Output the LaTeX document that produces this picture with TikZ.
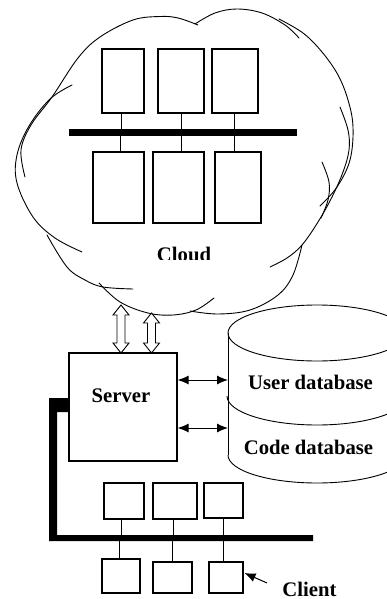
\documentclass[tikz,border=0pt]{standalone}
\usepackage{fontspec}
\setmainfont{Liberation Serif}
\usetikzlibrary{arrows.meta}

% double-headed hollow arrow: x, top y, bottom y
\newcommand{\hollowdbl}[3]{%
  \draw[hollowarrow] (#1,#2) -- ++(8,10) -- ++(-4,0) -- (#1+4,#3-10) -- ++(4,0)
    -- (#1,#3) -- ++(-8,-10) -- ++(4,0) -- (#1-4,#2+10) -- ++(-4,0) -- cycle;}

\begin{document}
\begin{tikzpicture}[x=1pt,y=-1pt,
  box/.style={draw, line width=1.1pt, inner sep=0pt, fill=white},
  lbl/.style={font=\bfseries\fontsize{20.7}{24}\selectfont, inner sep=0pt, anchor=base},
  wire/.style={line width=0.9pt},
  cloudline/.style={line width=0.9pt, line cap=round},
  hollowarrow/.style={line width=0.9pt, fill=white, line join=miter},
  dbarrow/.style={line width=1pt, {Latex[length=11pt,width=9pt]}-{Latex[length=11pt,width=9pt]}},
  bus/.style={fill=black, draw=none, inner sep=0pt}]

\useasboundingbox (0,0) rectangle (387,599);

% ---- cloud outline: overlapping lobes ----
\draw[cloudline] plot[smooth, tension=0.6] coordinates {(198,25) (178,18) (160,16.5) (133,20) (100,37) (78,58) (52,97) (31,125) (21,150) (25,177)};
\draw[cloudline] plot[smooth, tension=0.6] coordinates {(195,24) (215,13) (237,9) (262,13) (285,25) (299,38)};
\draw[cloudline] plot[smooth, tension=0.6] coordinates {(279,19) (303,33) (322,52) (338,75) (348,100) (353,127) (350,160) (337,187) (320,206)};
\draw[cloudline] plot[smooth, tension=0.6] coordinates {(340,107) (348,130) (349,150) (343,172) (332,197) (318,222) (302,245) (287,258) (270,267)};
\draw[cloudline] plot[smooth, tension=0.6] coordinates {(322,162) (329,182) (328,200) (321,218)};
\draw[cloudline] plot[smooth, tension=0.6] coordinates {(302,245) (293,275) (278,295) (250,310) (218,314) (190,311)};
\draw[cloudline] plot[smooth, tension=0.6] coordinates {(99,283) (120,302) (148,313) (173,315) (196,310) (214,298)};
\draw[cloudline] plot[smooth, tension=0.6] coordinates {(47,235) (67,267) (85,280) (103,287) (133,289)};
\draw[cloudline] plot[smooth, tension=0.6] coordinates {(72,85) (50,99) (29,126) (17,155) (17,183) (33,217) (55,238) (82,252)};

% ---- network inside the cloud ----
\node[bus, minimum width=228pt, minimum height=7pt] (bar) at (183,132.5) {};
\node[box, minimum width=42pt, minimum height=64pt] (t1) at (123,81) {};
\node[box, minimum width=46pt, minimum height=64pt] (t2) at (181,81) {};
\node[box, minimum width=46pt, minimum height=64pt] (t3) at (235,81) {};
\node[box, minimum width=51pt, minimum height=71pt] (b1) at (118.5,187.5) {};
\node[box, minimum width=51pt, minimum height=71pt] (b2) at (178.5,187.5) {};
\node[box, minimum width=46pt, minimum height=71pt] (b3) at (238,187.5) {};
\draw[wire] ([xshift=-2pt]t1.south) -- ([xshift=-2pt]t1.south |- bar.north);
\draw[wire] (t2.south) -- (t2.south |- bar.north);
\draw[wire] ([xshift=-1pt]t3.south) -- ([xshift=-1pt]t3.south |- bar.north);
\draw[wire] ([xshift=1.5pt]b1.north) -- ([xshift=1.5pt]b1.north |- bar.south);
\draw[wire] ([xshift=2.5pt]b2.north) -- ([xshift=2.5pt]b2.north |- bar.south);
\draw[wire] ([xshift=-4pt]b3.north) -- ([xshift=-4pt]b3.north |- bar.south);

\begin{scope}
  \clip (120,230) rectangle (250,259.5);
  \node[lbl] (cloudlbl) at (184,261.7) {Cloud};
\end{scope}

% ---- server ----
\node[box, minimum width=108pt, minimum height=108pt] (server) at (123,407) {};
\node[lbl] (srvlbl) at (121,402) {Server};
\hollowdbl{121}{305}{353}
\hollowdbl{151.5}{313}{353}

% ---- databases ----
\draw[wire] (317,333) ellipse (89pt and 28pt);
\draw[wire] (228,333) -- (228,455);
\draw[wire] (406,333) -- (406,455);
\draw[wire] (228,455) arc[start angle=180, end angle=360, x radius=89pt, y radius=28pt];
\draw[wire] (227,396) arc[start angle=180, end angle=360, x radius=90pt, y radius=29pt];
\node[lbl] (udblbl) at (310.5,389) {User database};
\node[lbl] (cdblbl) at (308.5,454) {Code database};
\coordinate (udb) at (228,380);
\coordinate (cdb) at (228,428);
\draw[dbarrow] (server.east |- udb) -- (udb);
\draw[dbarrow] (server.east |- cdb) -- (cdb);

% ---- client network ----
\fill (49,398) -- (server.west |- 0,398) -- (server.west |- 0,412) -- (57,412)
  -- (57,535) -- (313,535) -- (313,541) -- (49,541) -- cycle;
\coordinate (bustop) at (180,535);
\coordinate (busbot) at (180,541);
\node[box, minimum width=40pt, minimum height=36pt] (c1) at (124,501) {};
\node[box, minimum width=44pt, minimum height=36pt] (c2) at (175,501) {};
\node[box, minimum width=39pt, minimum height=35pt] (c3) at (223.5,500.5) {};
\node[box, minimum width=38pt, minimum height=34pt] (d1) at (121,576) {};
\node[box, minimum width=39pt, minimum height=31pt] (d2) at (172.5,577.5) {};
\node[box, minimum width=34pt, minimum height=31pt] (d3) at (226,577.5) {};
\draw[wire] ([xshift=-3pt]c1.south) -- ([xshift=-3pt]c1.south |- bustop);
\draw[wire] ([xshift=-2pt]c2.south) -- ([xshift=-2pt]c2.south |- bustop);
\draw[wire] (c3.south) -- (c3.south |- bustop);
\draw[wire] ([xshift=-2pt]d1.north) -- ([xshift=-2pt]d1.north |- busbot);
\draw[wire] (d2.north) -- (d2.north |- busbot);
\draw[wire] ([xshift=-3pt]d3.north) -- ([xshift=-3pt]d3.north |- busbot);

\coordinate (cltail) at (267,583);
\draw[line width=1pt, -{Latex[length=11pt,width=9pt]}] (cltail) -- ([xshift=1pt,yshift=4.5pt]d3.east);
\node[lbl] (clientlbl) at (309.5,596) {Client};
\end{tikzpicture}
\end{document}
